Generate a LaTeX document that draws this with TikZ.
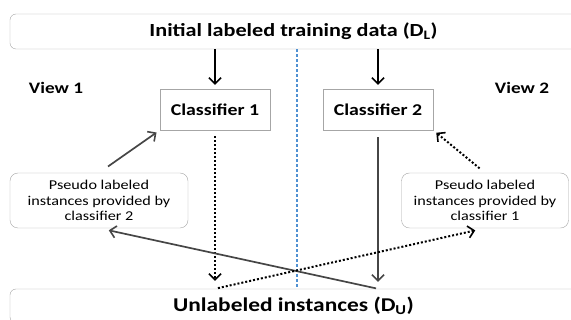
\documentclass[tikz,border=0pt]{standalone}
\usepackage{fontspec}
\setmainfont{Carlito}[FakeStretch=1.2]
\usetikzlibrary{arrows.meta, positioning}
\definecolor{viewblue}{RGB}{80,145,210}
\tikzset{>={Straight Barb[length=6pt,width=12pt,line width=1.6pt]}}
\tikzset{
  wide/.style={draw=gray!70, rounded corners=6pt, minimum width=567pt, font=\fontsize{18.5}{20}\selectfont\bfseries},
  clf/.style={draw=gray!70, minimum width=110pt, minimum height=41pt, font=\fontsize{16.5}{18}\selectfont\bfseries},
  pseudo/.style={draw=gray!70, rounded corners=8pt, align=center, inner sep=2pt, font=\fontsize{13.5}{15.5}\selectfont},
  view/.style={font=\fontsize{16}{18}\selectfont\bfseries},
  solidarr/.style={->, line width=1.7pt},
  grayarr/.style={->, line width=1.7pt, draw=gray!55!black},
  dotarr/.style={->, line width=2pt, dash pattern=on 2pt off 2pt},
}

\begin{document}
\begin{tikzpicture}[x=1pt,y=-1pt]
            \useasboundingbox (0,0) rectangle (571,320);
            \node[wide, minimum height=35pt] (DL) at (293.5,31.5) {Initial labeled training data (D\textsubscript{L})};
            \node[wide, minimum height=34pt, font=\fontsize{19.5}{21}\selectfont\bfseries] (DU) at (293.5,306) {Unlabeled instances (D\textsubscript{U})};
            \node[clf] (C1) at (215,109.5) {Classifier 1};
            \node[clf] (C2) at (378,109.5) {Classifier 2};
            \node[view] (V1) at (56,88) {View 1};
            \node[view] (V2) at (522,88) {View 2};
            \node[pseudo, minimum width=178pt, minimum height=55pt] (P2) at (99,200.5) {Pseudo labeled\\instances provided by\\classifier 2};
            \node[pseudo, minimum width=167pt, minimum height=55pt] (P1) at (485,200.5) {Pseudo labeled\\instances provided by\\classifier 1};
            \coordinate (U1) at (C1.south |- DU.north);
            \coordinate (U2) at (C2.south |- DU.north);
            
            % view separator
            \draw[viewblue, dash pattern=on 3pt off 2pt, line width=1.1pt] (DL.south -| 297,0) -- (DU.north -| 297,0);
            
            \draw[solidarr, shorten >=4pt] (DL.south -| C1.north) -- (C1.north);
            \draw[solidarr, shorten >=4pt] (DL.south -| C2.north) -- (C2.north);
            
            \draw[grayarr, shorten <=11pt, shorten >=4pt] (P2.north) -- (C1.south west);
            \draw[dotarr, shorten <=7pt, shorten >=4pt] (P1.north) -- (C2.south east);
            
            \draw[dotarr, shorten <=6pt, shorten >=8pt] (C1.south) -- (U1);
            \draw[grayarr, shorten <=7pt, shorten >=7pt] (C2.south) -- (U2);
            
            \draw[grayarr, shorten <=2pt, shorten >=10pt] (U2) -- (P2.south);
            \draw[dotarr, shorten <=3pt, shorten >=10pt] (U1) -- (P1.south);
            
            \end{tikzpicture}
\end{document}
